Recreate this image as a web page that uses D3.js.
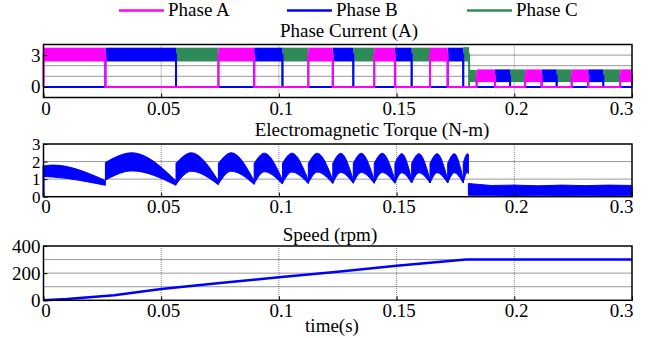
<!DOCTYPE html>
<html>
<head>
<meta charset="utf-8">
<script src="https://cdn.jsdelivr.net/npm/d3@7"></script>
<style>
body { margin: 0; background: #fff; }
svg text { font-family: "Liberation Serif", "Times New Roman", serif; fill: #000; }
</style>
</head>
<body>
<svg></svg>
<script>
var width = 648,
    height = 338,
    serif = "'Liberation Serif', 'Times New Roman', serif";

// x axis: the right edge is labelled 0.3 in the original figure
var xTicks = [0, 0.05, 0.1, 0.15, 0.2, 0.25];
var xTickLabels = ["0", "0.05", "0.1", "0.15", "0.2", "0.3"];

var phaseNames = ["Phase A", "Phase B", "Phase C"];
var phaseColors = ["#ff00ff", "#0000ff", "#2e8b57"];

// conduction intervals of each phase: [start, end, low, high] of the chopped band (A)
var phaseA = [
    [0, 0.0263, 2.4, 3.7], [0.0743, 0.0895, 2.4, 3.7], [0.1125, 0.1229, 2.4, 3.7],
    [0.1405, 0.1493, 2.4, 3.7], [0.1642, 0.1717, 2.4, 3.7],
    [0.184, 0.1918, 0.45, 1.65], [0.2046, 0.2116, 0.45, 1.65], [0.2244, 0.2314, 0.45, 1.65],
    [0.245, 0.25, 0.45, 1.65]
];
var phaseB = [
    [0.0263, 0.0563, 2.4, 3.7], [0.0895, 0.1015, 2.4, 3.7], [0.1229, 0.1316, 2.4, 3.7],
    [0.1493, 0.1564, 2.4, 3.7], [0.1717, 0.1783, 2.4, 3.7],
    [0.1918, 0.1982, 0.45, 1.65], [0.2116, 0.218, 0.45, 1.65], [0.2314, 0.2378, 0.45, 1.65]
];
var phaseC = [
    [0.0563, 0.0743, 2.4, 3.7], [0.1015, 0.1125, 2.4, 3.7], [0.1316, 0.1405, 2.4, 3.7],
    [0.1564, 0.1642, 2.4, 3.7], [0.1783, 0.1808, 2.4, 3.75], [0.1808, 0.184, 0.45, 1.6],
    [0.1982, 0.2046, 0.45, 1.65], [0.218, 0.2244, 0.45, 1.65], [0.2378, 0.245, 0.45, 1.65]
];

// torque arcs: [t0, tPeak, t1, hi0, hiPeak, hi1, lo0, loPeak, lo1] (N-m)
var torqueArcs = [
    [0, 0.004, 0.0263, 1.75, 1.8, 0.92, 1.15, 1.12, 0.65],
    [0.0263, 0.0375, 0.0563, 1.95, 2.5, 0.9, 0.95, 1.47, 0.65],
    [0.0563, 0.0627, 0.0743, 1.9, 2.5, 0.9, 0.7, 1.45, 0.68],
    [0.0743, 0.0797, 0.0895, 1.9, 2.5, 0.9, 0.72, 1.45, 0.7],
    [0.0895, 0.0938, 0.1015, 1.9, 2.48, 0.95, 0.74, 1.42, 0.72],
    [0.1015, 0.1055, 0.1125, 1.9, 2.48, 0.95, 0.76, 1.4, 0.74],
    [0.1125, 0.1163, 0.1229, 1.9, 2.47, 0.95, 0.78, 1.4, 0.75],
    [0.1229, 0.1263, 0.1316, 1.9, 2.47, 0.95, 0.78, 1.38, 0.76],
    [0.1316, 0.1350, 0.1405, 1.9, 2.47, 0.95, 0.78, 1.38, 0.76],
    [0.1405, 0.1439, 0.1493, 1.9, 2.47, 0.95, 0.78, 1.38, 0.76],
    [0.1493, 0.1522, 0.1564, 1.9, 2.45, 0.98, 0.78, 1.36, 0.78],
    [0.1564, 0.1595, 0.1642, 1.9, 2.45, 0.98, 0.78, 1.36, 0.78],
    [0.1642, 0.1672, 0.1717, 1.9, 2.45, 0.98, 0.78, 1.36, 0.78],
    [0.1717, 0.1745, 0.1783, 1.9, 2.45, 0.98, 0.78, 1.36, 0.78],
    [0.1783, 0.1801, 0.1805, 1.9, 2.45, 2.4, 0.8, 1.4, 1.3]
];
var torqueStart = [[0, 0], [0, 1.75]];
// steady band after the load step: [t, lo, hi]
var torqueLow = [
    [0.1805, 0.08, 0.75], [0.19, 0.08, 0.64], [0.2, 0.07, 0.66], [0.21, 0.08, 0.62],
    [0.22, 0.07, 0.66], [0.23, 0.08, 0.63], [0.24, 0.07, 0.66], [0.25, 0.08, 0.64]
];

// speed (rpm)
var speed = [
    [0, 0], [0.01, 10], [0.03, 38], [0.05, 83], [0.075, 128], [0.1, 169],
    [0.125, 210], [0.15, 255], [0.1795, 300], [0.25, 300]
];

var svg = d3.select("svg")
    .attr("width", width)
    .attr("height", height);

var x = d3.scaleLinear()
    .domain([0, 0.25])
    .range([43.5, 632]);

function makePanel(top, bottom, domain, grid, yLabels, xPad, ySize) {
    var y = d3.scaleLinear().domain(domain).range([bottom, top]);
    var g = svg.append("g");

    g.selectAll(".vgrid")
        .data(xTicks.slice(1, -1))
        .enter().append("line")
        .attr("x1", d => x(d)).attr("x2", d => x(d))
        .attr("y1", top).attr("y2", bottom)
        .attr("stroke", "#888")
        .attr("stroke-dasharray", "1,1");

    g.selectAll(".hgrid")
        .data(grid)
        .enter().append("line")
        .attr("x1", x.range()[0]).attr("x2", x.range()[1])
        .attr("y1", d => y(d)).attr("y2", d => y(d))
        .attr("stroke", "#333")
        .attr("stroke-dasharray", "1,1");

    var plot = g.append("g");
    var over = g.append("g");

    over.append("rect")
        .attr("x", x.range()[0]).attr("y", top)
        .attr("width", x.range()[1] - x.range()[0])
        .attr("height", bottom - top)
        .attr("fill", "none")
        .attr("stroke", "#000")
        .attr("stroke-width", 1.5);

    var xAxis = over.append("g")
        .attr("transform", "translate(0," + bottom + ")")
        .call(d3.axisBottom(x).tickValues(xTicks)
            .tickFormat((d, i) => xTickLabels[i])
            .tickSize(-4).tickPadding(xPad));
    xAxis.attr("font-family", serif).attr("font-size", 19);
    xAxis.select(".domain").remove();
    xAxis.selectAll("text")
        .attr("text-anchor", (d, i) => i === xTicks.length - 1 ? "end" : "middle")
        .attr("dx", (d, i) => i === xTicks.length - 1 ? "0.05em" : "0.1em");

    var yAxis = over.append("g")
        .attr("transform", "translate(" + x.range()[0] + ",0)")
        .call(d3.axisLeft(y).tickValues(yLabels).tickFormat(d3.format("d"))
            .tickSize(-4).tickPadding(3));
    yAxis.attr("font-family", serif).attr("font-size", ySize || 19);
    yAxis.select(".domain").remove();

    return { plot: plot, y: y };
}

// ---- legend
var legendX = [119, 287, 467];
var legend = svg.append("g")
    .attr("font-family", serif)
    .attr("font-size", 19);
phaseNames.forEach((name, i) => {
    legend.append("line")
        .attr("x1", legendX[i]).attr("x2", legendX[i] + 45)
        .attr("y1", 10.5).attr("y2", 10.5)
        .attr("stroke", phaseColors[i])
        .attr("stroke-width", 2.5);
    legend.append("text")
        .attr("x", legendX[i] + 49).attr("y", 16)
        .text(name);
});

// ---- titles
function title(txt, cx, base) {
    svg.append("text")
        .attr("x", cx).attr("y", base)
        .attr("text-anchor", "middle")
        .attr("font-family", serif)
        .attr("font-size", 19)
        .text(txt);
}
title("Phase Current (A)", 349, 37);
title("Electromagnetic Torque (N-m)", 372, 136);
title("Speed (rpm)", 330, 241);
title("time(s)", 332, 332);

// ---- phase currents
var cur = makePanel(44.5, 97.5, [-1, 4], [1, 2, 3], [0, 3], 4);
var stepLine = d3.line().x(d => x(d[0])).y(d => cur.y(d[1]));

[phaseC, phaseB, phaseA].forEach((intervals, k) => {
    var color = phaseColors[2 - k];
    var pts = [];
    if (intervals[0][0] > 0) pts.push([0, 0]);
    intervals.forEach(d => {
        var mid = (d[2] + d[3]) / 2;
        pts.push([d[0], 0], [d[0], mid], [d[1], mid], [d[1], 0]);
    });
    if (pts[pts.length - 1][0] < 0.25) pts.push([0.25, 0]);

    var grp = cur.plot.append("g");
    grp.append("path")
        .attr("d", stepLine(pts))
        .attr("fill", "none")
        .attr("stroke", color)
        .attr("stroke-width", 2);
    grp.selectAll("rect")
        .data(intervals)
        .enter().append("rect")
        .attr("x", d => x(d[0]))
        .attr("width", d => x(d[1]) - x(d[0]))
        .attr("y", d => cur.y(d[3]))
        .attr("height", d => cur.y(d[2]) - cur.y(d[3]))
        .attr("fill", color);
});

// ---- torque
var tq = makePanel(144, 196.7, [0, 3], [1, 2], [0, 1, 2, 3], 2.5, 17);
var band = d3.area()
    .x(d => x(d[0]))
    .y0(d => tq.y(d[1]))
    .y1(d => tq.y(d[2]))
    .curve(d3.curveMonotoneX);

tq.plot.selectAll(".arc")
    .data(torqueArcs)
    .enter().append("path")
    .attr("d", d => band([[d[0], d[6], d[3]], [d[1], d[7], d[4]], [d[2], d[8], d[5]]]))
    .attr("fill", "#0000ff")
    .attr("stroke", "#0000ff")
    .attr("stroke-width", 1);

tq.plot.append("path")
    .attr("d", band.curve(d3.curveLinear)(torqueLow))
    .attr("fill", "#0000ff")
    .attr("stroke", "#0000ff")
    .attr("stroke-width", 1);

tq.plot.append("path")
    .attr("d", d3.line().x(d => x(d[0])).y(d => tq.y(d[1]))(torqueStart))
    .attr("stroke", "#0000ff")
    .attr("stroke-width", 2);

// ---- speed
var sp = makePanel(246, 300.3, [0, 400], [100, 200, 300], [0, 200, 400], 3);
sp.plot.append("path")
    .attr("d", d3.line().x(d => x(d[0])).y(d => sp.y(d[1]))(speed))
    .attr("fill", "none")
    .attr("stroke", "#0000ff")
    .attr("stroke-width", 2.5);
</script>
</body>
</html>
